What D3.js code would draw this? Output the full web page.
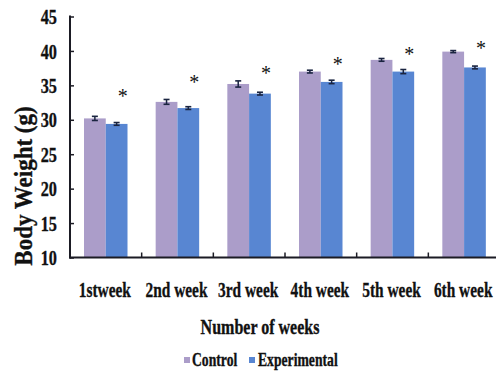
<!DOCTYPE html>
<html>
<head>
<meta charset="utf-8">
<script src="https://cdn.jsdelivr.net/npm/d3@7"></script>
<style>
  html, body { margin: 0; padding: 0; background: #fff; }
  svg { display: block; }
  text { font-family: "Liberation Serif", "Times New Roman", serif; font-weight: bold; fill: #111; }
  text.lbl { stroke: #111; stroke-width: 0.35px; }
</style>
</head>
<body>
<svg id="chart" width="496" height="379"></svg>
<script>
// Body weight by week (g), mean ± SE
const weeks = ["1stweek", "2nd week", "3rd week", "4th week", "5th week", "6th week"];
const series = ["Control", "Experimental"];
const control = [30.2, 32.6, 35.2, 37.0, 38.7, 39.9];
const experimental = [29.4, 31.7, 33.8, 35.5, 37.0, 37.6];
const controlErr = [0.3, 0.35, 0.45, 0.2, 0.2, 0.15];
const experimentalErr = [0.2, 0.2, 0.2, 0.25, 0.3, 0.2];
// height (g) at which the significance mark sits
const starLevel = [34.0, 36.1, 37.4, 38.7, 40.2, 41.0];
const yTicks = [10, 15, 20, 25, 30, 35, 40, 45];

const colors = { Control: "#ab9dc9", Experimental: "#5886d2" };
const axisColor = "#1b1b24";

const svg = d3.select("#chart");

const x0 = d3.scaleBand().domain(weeks).range([70, 500]).padding(0);
const x1 = d3.scaleBand().domain(series).range([14, 57.5]).padding(0);
const y = d3.scaleLinear().domain([10, 45]).range([257.5, 16.5]);

const rows = weeks.map((w, i) => ({
  week: w,
  values: [
    { key: "Control", v: control[i], e: controlErr[i] },
    { key: "Experimental", v: experimental[i], e: experimentalErr[i] }
  ],
  star: starLevel[i]
}));

// bars
const groups = svg.append("g").selectAll("g").data(rows).join("g")
  .attr("transform", d => `translate(${x0(d.week)},0)`);

groups.selectAll("rect").data(d => d.values).join("rect")
  .attr("x", d => x1(d.key))
  .attr("y", d => y(d.v))
  .attr("width", x1.bandwidth())
  .attr("height", d => y(10) - y(d.v))
  .attr("fill", d => colors[d.key]);

// error bars
const eb = groups.selectAll("g.err").data(d => d.values).join("g").attr("class", "err");
eb.append("line")
  .attr("x1", d => x1(d.key) + x1.bandwidth() / 2)
  .attr("x2", d => x1(d.key) + x1.bandwidth() / 2)
  .attr("y1", d => y(d.v + d.e))
  .attr("y2", d => y(d.v - d.e))
  .attr("stroke", "#1a2440").attr("stroke-width", 1.5);
eb.selectAll("line.cap").data(d => [d.v + d.e, d.v - d.e].map(t => ({ key: d.key, t })))
  .join("line").attr("class", "cap")
  .attr("x1", d => x1(d.key) + x1.bandwidth() / 2 - 3)
  .attr("x2", d => x1(d.key) + x1.bandwidth() / 2 + 3)
  .attr("y1", d => y(d.t))
  .attr("y2", d => y(d.t))
  .attr("stroke", "#1a2440").attr("stroke-width", 1.6);

// significance marks
groups.append("text")
  .attr("x", x1("Experimental") + x1.bandwidth() / 2 + 6)
  .attr("y", d => y(d.star))
  .attr("dy", "0.55em")
  .attr("text-anchor", "middle")
  .style("font-weight", "normal")
  .style("font-size", "20px")
  .text("*");

// axes
const yAxis = d3.axisRight(y).tickValues(yTicks).tickSize(4).tickFormat("");
svg.append("g").attr("transform", "translate(70,0)").call(yAxis)
  .call(g => g.select(".domain").remove())
  .call(g => g.selectAll(".tick line").attr("stroke", axisColor).attr("stroke-width", 1.5));
svg.append("line").attr("x1", 70).attr("x2", 70).attr("y1", y(45) - 1).attr("y2", y(10) + 1)
  .attr("stroke", axisColor).attr("stroke-width", 2);

const xBoundaries = weeks.slice(1).map(w => x0(w));
svg.append("g").selectAll("line").data(xBoundaries).join("line")
  .attr("x1", d => d).attr("x2", d => d)
  .attr("y1", y(10)).attr("y2", y(10) - 5)
  .attr("stroke", axisColor).attr("stroke-width", 1.5);
svg.append("line").attr("x1", 69).attr("x2", 496).attr("y1", y(10)).attr("y2", y(10))
  .attr("stroke", axisColor).attr("stroke-width", 2.2);

// condensed text helper
function label(x, yy, txt, size, sx, anchor, rotate) {
  const g = svg.append("g")
    .attr("transform", `translate(${x},${yy})${rotate ? ` rotate(${rotate})` : ""} scale(${sx},1)`);
  g.append("text")
    .attr("class", "lbl")
    .attr("text-anchor", anchor)
    .attr("dy", "0.35em")
    .style("font-size", size + "px")
    .text(txt);
}

// y tick labels
yTicks.forEach(t => label(57, y(t), String(t), 22, 0.74, "end"));

// x tick labels
weeks.forEach(w => label(x0(w) + x0.bandwidth() / 2 - 1, 289, w, 22, 0.7, "middle"));

// axis titles
label(260, 327, "Number of weeks", 20, 0.8, "middle");
label(23, 186, "Body  Weight (g)", 25, 0.92, "middle", -90);

// legend
const legend = [
  { key: "Control", sq: 184, tx: 192 },
  { key: "Experimental", sq: 249, tx: 258 }
];
legend.forEach(l => {
  svg.append("rect").attr("x", l.sq).attr("y", 357).attr("width", 6).attr("height", 6)
    .attr("fill", colors[l.key]);
  label(l.tx, 360, l.key, 18, 0.76, "start");
});
</script>
</body>
</html>
